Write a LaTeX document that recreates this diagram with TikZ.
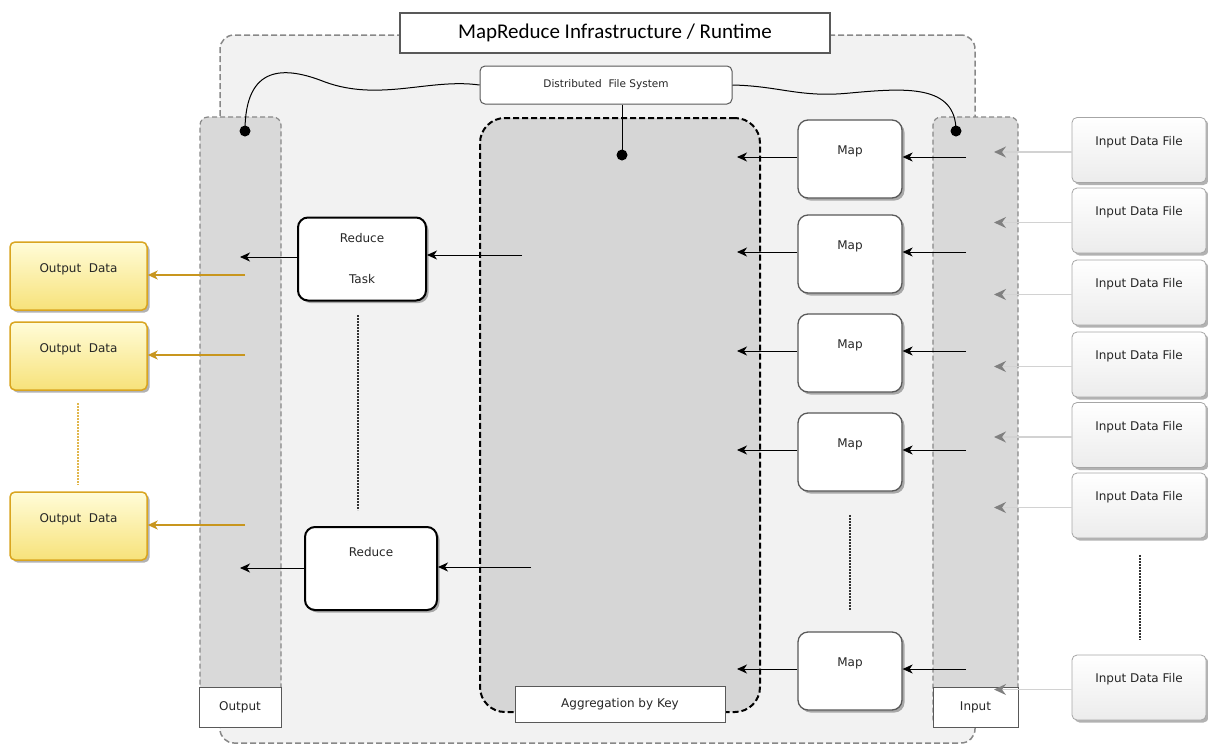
\documentclass[tikz,border=0pt]{standalone}
\usepackage{fontspec}
\setmainfont{DejaVu Sans}
\newfontfamily\titlefont{Carlito}
\usetikzlibrary{shadows,arrows.meta}
\definecolor{outerfill}{HTML}{F2F2F2}
\definecolor{colfill}{HTML}{D9D9D9}
\definecolor{aggfill}{HTML}{D6D6D6}
\definecolor{dashgray}{HTML}{888888}
\definecolor{gold}{HTML}{C8961E}
\definecolor{yellowtop}{HTML}{FFFCD8}
\definecolor{yellowbot}{HTML}{F7E27A}
\definecolor{yellowedge}{HTML}{D9A520}
\begin{document}
\begin{tikzpicture}[x=1pt,y=-1pt,
  lbl/.style={font=\fontsize{12}{14}\selectfont,text=black!85},
  shad/.style={drop shadow={shadow xshift=2.5pt,shadow yshift=-2.5pt,fill=black,opacity=0.3}},
  mapbox/.style={lbl,draw=gray!70!black,line width=1.3pt,rounded corners=10pt,fill=white,
    minimum width=104pt,minimum height=78pt,text depth=18pt,shad},
  redbox/.style={lbl,draw=black,line width=2pt,rounded corners=10pt,fill=white,
    minimum height=83pt,shad},
  filebox/.style={lbl,draw=gray!70,line width=0.8pt,rounded corners=5pt,top color=white,bottom color=gray!15,
    minimum width=134pt,minimum height=65pt,text depth=19pt,shad},
  outbox/.style={lbl,draw=yellowedge,line width=1.5pt,rounded corners=5pt,top color=yellowtop,bottom color=yellowbot,
    minimum width=137pt,minimum height=68pt,text depth=16pt,shad},
  column/.style={draw=dashgray,line width=1.2pt,dash pattern=on 5pt off 3pt,rounded corners=8pt,fill=colfill,
    minimum height=610pt},
  tagbox/.style={lbl,draw=gray!70!black,line width=1pt,fill=white,minimum height=40pt},
  arr/.style={line width=0.9pt,-{Stealth[length=10pt,width=9pt,inset=3pt]}},
  grayarr/.style={line width=1.4pt,draw=gray!35,-{Stealth[length=12pt,width=11pt,inset=4pt,color=gray]}},
  goldarr/.style={line width=1.6pt,draw=gold,-{Stealth[length=10pt,width=9pt,inset=3pt]}},
  dotline/.style={line width=1.2pt,draw=black!80,dash pattern=on 2pt off 1pt},
  blob/.style={circle,fill=black,minimum size=11pt,inner sep=0pt}
]
\useasboundingbox (0,0) rectangle (1208,745);
% outer runtime area
\node[draw=dashgray,line width=1.5pt,dash pattern=on 6pt off 3pt,rounded corners=14pt,fill=outerfill,
  minimum width=755pt,minimum height=708pt] (runtime) at (597.5,389) {};
\node[draw=gray!70!black,line width=1.5pt,fill=white,minimum width=430pt,minimum height=40pt,
  font=\titlefont\fontsize{21}{24}\selectfont] (title) at (615,33) {MapReduce Infrastructure / Runtime};
% columns
\node[column,minimum width=81pt] (outcol) at (240.5,422) {};
\node[column,minimum width=85pt] (incol) at (975.5,422) {};
\node[tagbox,minimum width=82pt] (outtag) at (240,707) {Output};
\node[tagbox,minimum width=85pt] (intag) at (975.5,707) {Input};
% aggregation
\node[draw=black,line width=2pt,dash pattern=on 6pt off 3pt,rounded corners=25pt,fill=aggfill,
  minimum width=280pt,minimum height=594pt] (agg) at (620,415) {};
\node[tagbox,minimum width=210pt,minimum height=36pt] (aggtag) at (620,704) {Aggregation by Key};
% DFS
\node[lbl,font=\fontsize{10.5}{12}\selectfont,draw=gray!70!black,line width=1pt,rounded corners=5pt,fill=white,minimum width=252pt,minimum height=38pt]
  (dfs) at (606,85) {Distributed\ \ File System};
\node[blob] (ldot) at (245,131) {};
\node[blob] (rdot) at (956,131) {};
\node[blob] (cdot) at (622,155) {};
\draw[line width=1pt] (dfs.west) .. controls (430,78) and (380,102) .. (325,82)
  .. controls (285,66) and (245,64) .. (ldot.center);
\draw[line width=1pt] (dfs.east) .. controls (780,86) and (800,98) .. (850,93)
  .. controls (905,88) and (956,84) .. (rdot.center);
\draw[line width=1pt] (dfs.south -| cdot) -- (cdot.center);
% maps
\foreach \i/\y in {1/159,2/254,3/353,4/452,5/671}{
  \node[mapbox] (m\i) at (850,\y) {Map};
  \coordinate (mi\i) at (966,\y-2);
  \coordinate (mo\i) at (737,\y-2);
  \draw[arr] (mi\i) -- (m\i.east |- mi\i);
  \draw[arr] (m\i.west |- mo\i) -- (mo\i);
}
\coordinate (mdA) at (850,515); \coordinate (mdB) at (850,610);
\draw[dotline] (mdA) -- (mdB);
% input files
\foreach \i/\y in {1/150,2/220.5,3/292.5,4/364.5,5/435,6/505.5,7/687.5}{
  \node[filebox] (f\i) at (1139,\y) {Input Data File};
  \coordinate (fi\i) at (994,\y+2);
  \draw[grayarr] (f\i.west |- fi\i) -- (fi\i);
}
\coordinate (fdA) at (1140,555); \coordinate (fdB) at (1140,640);
\draw[dotline] (fdA) -- (fdB);
% reduces
\node[redbox,minimum width=128pt,align=center] (r1) at (362,259) {Reduce\\[27pt]Task};
\node[redbox,minimum width=132pt,text depth=33pt] (r2) at (371,568.5) {Reduce};
\coordinate (ra1) at (522,255); \coordinate (rb1) at (240,257);
\coordinate (ra2) at (531,567); \coordinate (rb2) at (240,568);
\draw[arr] (ra1) -- (r1.east |- ra1);
\draw[arr] (r1.west |- rb1) -- (rb1);
\draw[arr] (ra2) -- (r2.east |- ra2);
\draw[arr] (r2.west |- rb2) -- (rb2);
\coordinate (rdA) at (358,315); \coordinate (rdB) at (358,510);
\draw[dotline] (rdA) -- (rdB);
% outputs
\foreach \i/\y in {1/276,2/356,3/526}{
  \node[outbox] (o\i) at (78.5,\y) {Output\ \ Data};
  \coordinate (os\i) at (245,\y-1);
  \draw[goldarr] (os\i) -- (o\i.east |- os\i);
}
\coordinate (odA) at (78,403); \coordinate (odB) at (78,485);
\draw[dotline,draw=yellowedge!80] (odA) -- (odB);
\end{tikzpicture}
\end{document}
